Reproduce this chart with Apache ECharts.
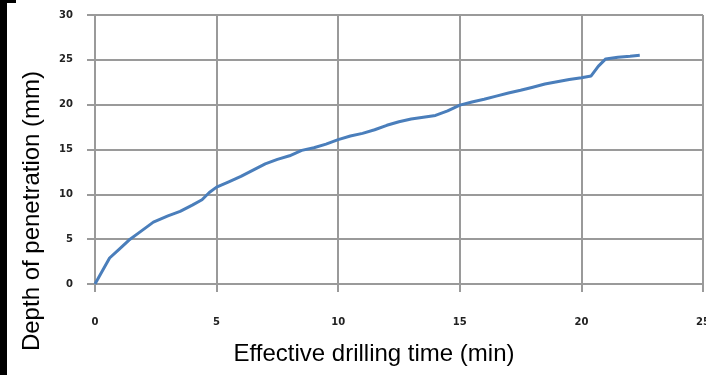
<!DOCTYPE html>
<html>
<head>
<meta charset="utf-8">
<script src="https://cdn.jsdelivr.net/npm/echarts@6/dist/echarts.min.js"></script>
<style>html,body{margin:0;padding:0;background:#fff;}#c{width:706px;height:375px;}</style>
</head>
<body>
<div id="c"></div>
<script>
var timeMin = [0, 0.6, 1.0, 1.4, 1.8, 2.4, 3.0, 3.5, 4.0, 4.4, 4.7, 5.0, 5.5, 6.0, 6.5, 7.0, 7.5, 8.0, 8.5, 9.0, 9.5, 10.0, 10.5, 11.0, 11.5, 12.0, 12.5, 13.0, 13.5, 14.0, 14.5, 15.0, 15.5, 16.0, 16.5, 17.0, 17.5, 18.0, 18.5, 19.0, 19.5, 20.0, 20.4, 20.7, 21.0, 21.5, 22.0, 22.4];
var depthMm = [0, 2.9, 3.9, 4.9, 5.7, 6.9, 7.6, 8.1, 8.8, 9.4, 10.2, 10.8, 11.4, 12.0, 12.7, 13.4, 13.9, 14.3, 14.9, 15.2, 15.6, 16.1, 16.5, 16.8, 17.2, 17.7, 18.1, 18.4, 18.6, 18.8, 19.3, 19.95, 20.3, 20.6, 20.95, 21.3, 21.6, 21.95, 22.3, 22.55, 22.8, 23.0, 23.2, 24.3, 25.1, 25.3, 25.4, 25.5];
var xTitle = 'Effective drilling time (min)';
var yTitle = 'Depth of penetration (mm)';

var points = timeMin.map(function (t, i) { return [t, depthMm[i]]; });
var gridColor = '#9a9a9a';
var chart = echarts.init(document.getElementById('c'));
chart.setOption({
  animation: false,
  grid: { left: 95, right: 3, top: 15, bottom: 91, containLabel: false, outerBoundsMode: 'none' },
  xAxis: {
    type: 'value', min: 0, max: 25, interval: 5,
    axisLine: { show: true, lineStyle: { color: gridColor, width: 2 } },
    axisTick: { show: true, length: 8, lineStyle: { color: gridColor, width: 2 } },
    splitLine: { show: true, lineStyle: { color: gridColor, width: 2 } },
    axisLabel: { margin: 33, fontFamily: 'DejaVu Sans', fontWeight: 'bold', fontSize: 10, color: '#222' }
  },
  yAxis: {
    type: 'value', min: 0, max: 30, interval: 5,
    axisLine: { show: true, lineStyle: { color: gridColor, width: 2 } },
    axisTick: { show: true, length: 8, lineStyle: { color: gridColor, width: 2 } },
    splitLine: { show: true, lineStyle: { color: gridColor, width: 2 } },
    axisLabel: { margin: 22, fontFamily: 'DejaVu Sans', fontWeight: 'bold', fontSize: 10, color: '#222' }
  },
  graphic: [
    { type: 'rect', shape: { x: 0, y: 0, width: 7, height: 375 }, style: { fill: '#000' } },
    { type: 'rect', shape: { x: 0, y: 0, width: 16, height: 3 }, style: { fill: '#000' } },
    { type: 'text', x: 32, y: 211, rotation: Math.PI / 2,
      style: { text: yTitle, fontFamily: 'Liberation Sans', fontSize: 24, fill: '#000', align: 'center', verticalAlign: 'middle' } },
    { type: 'text', x: 374, y: 354,
      style: { text: xTitle, fontFamily: 'Liberation Sans', fontSize: 24, fill: '#000', align: 'center', verticalAlign: 'middle' } }
  ],
  series: [{
    type: 'line', data: points, showSymbol: false, smooth: false,
    lineStyle: { color: '#4a7ebb', width: 3 }
  }]
});
</script>
</body>
</html>
